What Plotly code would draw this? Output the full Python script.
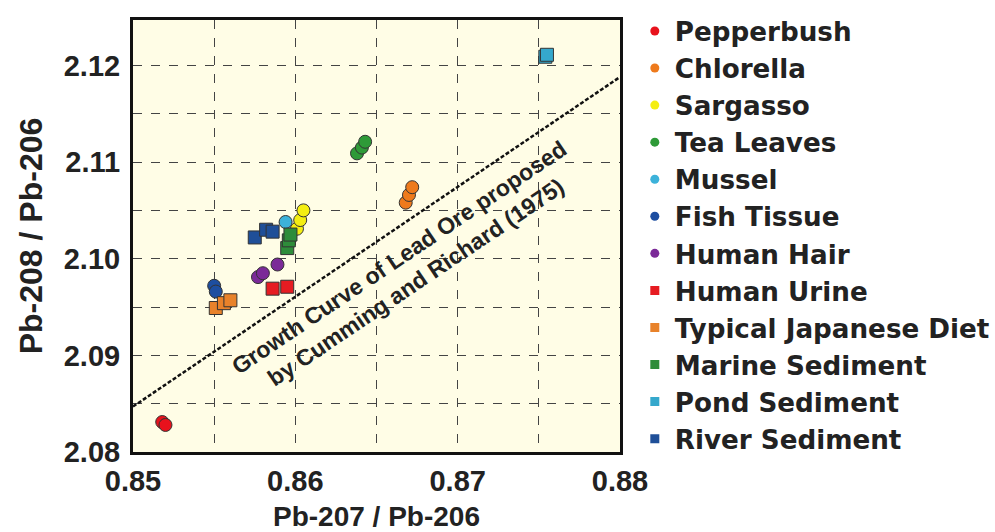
import plotly.graph_objects as go

# ---- data ----
names = ["Pepperbush", "Chlorella", "Sargasso", "Tea Leaves", "Mussel", "Fish Tissue",
         "Human Hair", "Human Urine", "Typical Japanese Diet", "Marine Sediment",
         "Pond Sediment", "River Sediment"]
colors = ["#e8121c", "#ee7a1c", "#f4ee12", "#2e9a38", "#3cb2da", "#1d4ea0",
          "#7b2a98", "#e61c22", "#e8822a", "#2e8c3a", "#35a8cc", "#1f4f98"]
symbols = ["circle"] * 7 + ["square"] * 5

pepperbush_x = [0.8518, 0.8520]
pepperbush_y = [2.0831, 2.0828]
chlorella_x = [0.8668, 0.8670, 0.8672]
chlorella_y = [2.1058, 2.1066, 2.1074]
sargasso_x = [0.8601, 0.8603, 0.8605]
sargasso_y = [2.1031, 2.1040, 2.1050]
tea_x = [0.8638, 0.8641, 0.8643]
tea_y = [2.1109, 2.1115, 2.1121]
mussel_x = [0.8594]
mussel_y = [2.1038]
fish_x = [0.8550, 0.8551]
fish_y = [2.0972, 2.0966]
hair_x = [0.8577, 0.8580, 0.8589]
hair_y = [2.0981, 2.0985, 2.0994]
urine_x = [0.8586, 0.8595]
urine_y = [2.0969, 2.0971]
diet_x = [0.8551, 0.8556, 0.8560]
diet_y = [2.0949, 2.0954, 2.0957]
marine_x = [0.8595, 0.8596, 0.8597]
marine_y = [2.1011, 2.1019, 2.1025]
pond_x = [0.8754, 0.8755]
pond_y = [2.1209, 2.1211]
river_x = [0.8575, 0.8582, 0.8586]
river_y = [2.1022, 2.1030, 2.1028]

series_x = [pepperbush_x, chlorella_x, sargasso_x, tea_x, mussel_x, fish_x,
            hair_x, urine_x, diet_x, marine_x, pond_x, river_x]
series_y = [pepperbush_y, chlorella_y, sargasso_y, tea_y, mussel_y, fish_y,
            hair_y, urine_y, diet_y, marine_y, pond_y, river_y]

curve_x = [0.85, 0.88]
curve_y = [2.0847, 2.1188]
curve_label = "Growth Curve of Lead Ore proposed<br>by Cumming and Richard (1975)"

x_ticks = [0.85, 0.86, 0.87, 0.88]
y_ticks = [2.08, 2.09, 2.10, 2.11, 2.12]

FONT = "Liberation Sans, Arial, sans-serif"
LEG_FONT = "DejaVu Sans, Liberation Sans, sans-serif"

fig = go.Figure()

fig.add_trace(go.Scatter(x=curve_x, y=curve_y, mode="lines",
                         line=dict(color="#111", width=2.5, dash="4px,2px"),
                         showlegend=False, hoverinfo="skip"))

for n, c, s, xs, ys in zip(names, colors, symbols, series_x, series_y):
    fig.add_trace(go.Scatter(x=xs, y=ys, mode="markers", name=n, showlegend=False,
                             marker=dict(color=c, symbol=s, size=13,
                                         line=dict(color="#333", width=1))))
for n, c, s in zip(names, colors, symbols):
    fig.add_trace(go.Scatter(x=[None], y=[None], mode="markers", name=n,
                             marker=dict(color=c, symbol=s, size=9,
                                         line=dict(width=0))))

fig.add_annotation(x=0.8669, y=2.0988, text="<b>" + curve_label + "</b>",
                   showarrow=False, textangle=-34,
                   font=dict(family=FONT, size=23, color="#222"))

axis_common = dict(showline=True, linecolor="#111", linewidth=3, mirror=True,
                   showgrid=True, gridcolor="#444", gridwidth=1.3, griddash="dash",
                   zeroline=False, ticks="outside",
                   tickcolor="rgba(0,0,0,0)",
                   tickfont=dict(family=FONT, size=29, color="#222", weight="bold"),
                   tickformat=".2f")

fig.update_xaxes(range=[0.85, 0.88], tickvals=x_ticks, ticklen=1,
                 minor=dict(dtick=0.005, showgrid=True, gridcolor="#444",
                            gridwidth=1.3, griddash="dash"),
                 title=dict(text="<b>Pb-207 / Pb-206</b>",
                            font=dict(family=FONT, size=28, color="#222"),
                            standoff=15),
                 **axis_common)
fig.update_yaxes(range=[2.08, 2.1247], tickvals=y_ticks, ticklen=4,
                 minor=dict(dtick=0.005, showgrid=True, gridcolor="#444",
                            gridwidth=1.3, griddash="dash"),
                 title=dict(text="<b>Pb-208 / Pb-206</b>",
                            font=dict(family=FONT, size=32, color="#222"),
                            standoff=12),
                 **axis_common)

fig.update_layout(
    width=995, height=532,
    margin=dict(l=133, r=375, t=20, b=80, autoexpand=False),
    plot_bgcolor="#fffde6", paper_bgcolor="white",
    font=dict(family=FONT, color="#222"),
    legend=dict(xref="container", yref="container",
                x=0.638, xanchor="left", y=0.986, yanchor="top",
                font=dict(family=LEG_FONT, size=26.2, color="#222", weight="bold"),
                itemwidth=30, tracegroupgap=0, bgcolor="rgba(0,0,0,0)",
                maxheight=1),
)

fig.write_html("out.html")
